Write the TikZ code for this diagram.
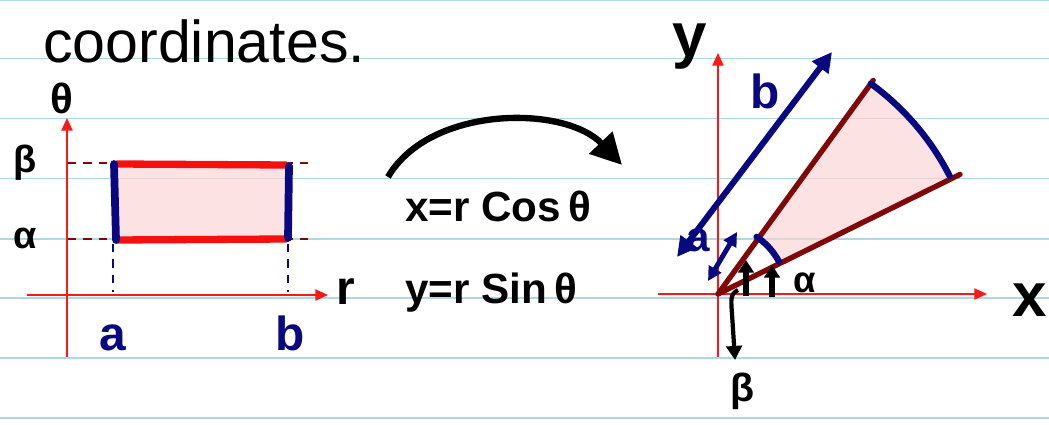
\documentclass[tikz,border=0pt]{standalone}
\usepackage{fontspec}
\setmainfont{Liberation Sans}
\usetikzlibrary{arrows.meta}
\definecolor{paperblue}{RGB}{176,216,228}
\definecolor{axisred}{RGB}{250,25,25}
\definecolor{bandred}{RGB}{245,15,15}
\definecolor{inkblue}{RGB}{8,8,128}
\definecolor{darkred}{RGB}{128,8,8}
\definecolor{pinkfill}{RGB}{250,210,210}

\begin{document}
\begin{tikzpicture}[x=0.025cm,y=-0.025cm,
  paper/.style={paperblue,line width=1.4pt},
  axis/.style={axisred,line width=1.1pt,-{Triangle[length=9pt,width=8pt]}},
  band/.style={bandred,line width=5.2pt,line cap=round},
  side/.style={inkblue,line width=5.5pt,line cap=round},
  guide/.style={darkred,line width=1.8pt,dash pattern=on 6pt off 5pt},
  drop/.style={inkblue,line width=2pt,dash pattern=on 6pt off 5pt},
  region/.style={fill=pinkfill,fill opacity=0.65},
  ray/.style={darkred,line width=3.8pt,line cap=round},
  span/.style={inkblue,line width=4.3pt,{Triangle[length=14pt,width=14pt]}-{Triangle[length=14pt,width=14pt]}},
  tick/.style={line width=4pt,-{Triangle[length=9pt,width=11pt]}},
  hand/.style={inner sep=0pt,font=\bfseries\fontsize{30}{30}\selectfont},
  bighand/.style={inner sep=0pt,font=\bfseries\fontsize{44}{44}\selectfont}]
\useasboundingbox (0,0) rectangle (1049,425);
% ---- ruled paper ----
\foreach \y in {0,58.5,118.5,178.5,238.8,298.3,358.3,418}
  \draw[paper] (0,\y) -- (1049,\y);
% ---- title ----
\node[inner sep=0pt,anchor=base west,font=\fontsize{42}{42}\selectfont] (title) at (43,63) {coordinates.};
% ---- r-theta plane ----
\draw[guide] (68,163) -- (312,163);
\draw[guide] (68,239) -- (312,239);
\fill[region] (112,163) rectangle (290,240);
\draw[axis] (67,357) -- (67,118);
\draw[axis] (27,295) -- (328,295);
\draw[drop] (113,244) -- (113,292);
\draw[drop] (288,244) -- (288,292);
\draw[band] (117,164) -- (286,165);
\draw[band] (117,240) -- (286,239);
\draw[side] (114,164) -- (116,240);
\draw[side] (289,166) -- (288,238);
\node[hand] (thetalbl) at (62,98) {θ};
\node[hand,font=\bfseries\fontsize{27}{27}\selectfont] (betalbl) at (25,163) {β};
\node[hand,font=\bfseries\fontsize{27}{27}\selectfont] (alphalbl) at (25,238) {α};
\node[hand,font=\bfseries\fontsize{34}{34}\selectfont] (rlbl) at (346,292) {r};
\node[hand,inkblue,font=\bfseries\fontsize{34}{34}\selectfont] (alower) at (113,338) {a};
\node[hand,inkblue,font=\bfseries\fontsize{34}{34}\selectfont] (blower) at (290,333) {b};
% ---- change of variables ----
\node[inner sep=0pt,anchor=base west,font=\bfseries\fontsize{30}{30}\selectfont] (eqx) at (405,222) {x=r Cos\,θ};
\node[inner sep=0pt,anchor=base west,font=\bfseries\fontsize{30}{30}\selectfont] (eqy) at (405,304) {y=r Sin\,θ};
\coordinate (bendstart) at (388,177);
\coordinate (bendend) at (622,165);
\draw[line width=4.5pt,-{Triangle[length=22pt,width=22pt]}] (bendstart) .. controls (430,105) and (565,105) .. (bendend);
% ---- x-y plane ----
\begin{scope}[shift={(718,294)},yscale=-1]
  \fill[region] plot[domain=27:54,samples=30] (\x:260) -- plot[domain=54:27,samples=20] (\x:70) -- cycle;
  \draw[axis] (-60,0) -- (269,0);
  \draw[axis] (0,-63) -- (0,241);
  \coordinate (O) at (0,0);
  \draw[ray] (O) -- (54:264);
  \draw[ray] (O) -- (26.3:270);
  \draw[side,line width=4.5pt] plot[domain=27:54,samples=30] (\x:260);
  \draw[side,line width=4.5pt] plot[domain=28:56,samples=20] (\x:69);
  \draw[span] (-41,37) -- (114,242);
  \draw[span,line width=3.5pt,{Triangle[length=10pt,width=10pt]}-{Triangle[length=10pt,width=10pt]}] (-10,13) -- (19,62);
  \draw[tick] (28,-2) -- (28,34);
  \draw[tick] (54,-3) -- (54,29);
  \draw[line width=3pt,-{Triangle[length=10pt,width=11pt]}] (20,4) .. controls (12,0) and (13,-6) .. (14,-20) -- (17,-66);
  \node[bighand] (xlbl) at (312,-6) {x};
  \node[bighand] (ylbl) at (-28,247) {y};
  \node[hand,inkblue,font=\bfseries\fontsize{34}{34}\selectfont] (bupper) at (47,203) {b};
  \node[hand,inkblue] (aupper) at (-20,54) {a};
  \node[hand,font=\bfseries\fontsize{26}{26}\selectfont] (alphaupper) at (87,11) {α};
  \node[hand,font=\bfseries\fontsize{28}{28}\selectfont] (betaupper) at (25,-97) {β};
\end{scope}
\end{tikzpicture}
\end{document}
